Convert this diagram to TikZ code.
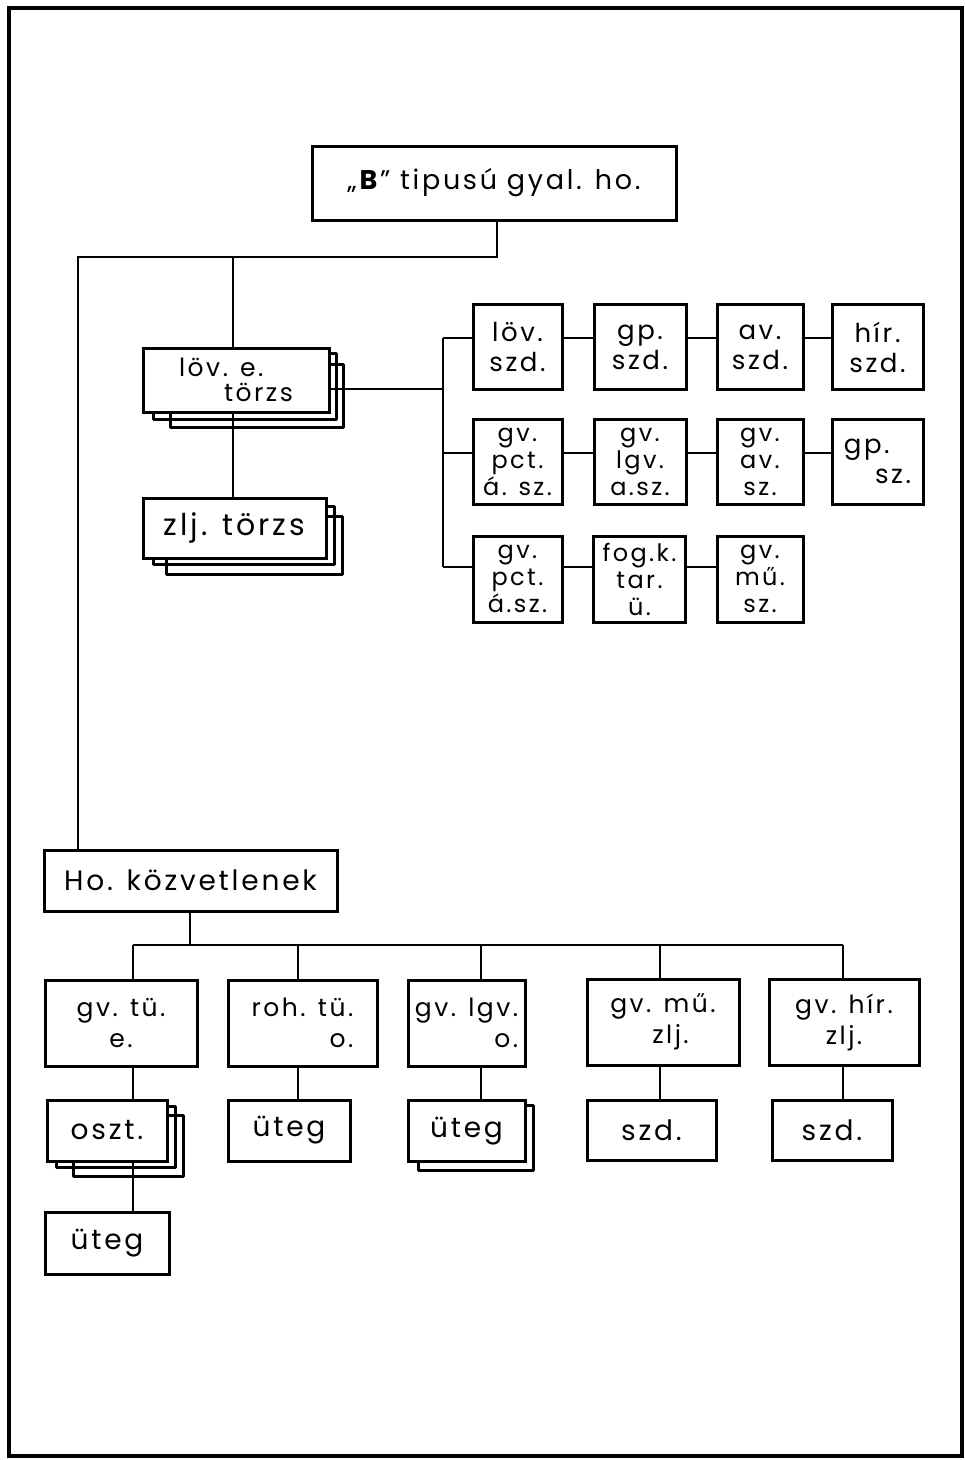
\documentclass[tikz,border=0pt]{standalone}
\usepackage{fontspec}
\setmainfont[LetterSpace=10]{Poppins}
\usetikzlibrary{calc}
\newcommand\backcopy[5]{%
  \draw[boxline] ($(#1.south west)+(#2,0)$) -- ++(0,#5) -| ($(#1.north east)+(#3,#4)$) -- ($(#1.north east)+(0,#4)$);}
\newcommand\fs[2]{\fontsize{#1}{#2}\selectfont}
\begin{document}
\begin{tikzpicture}[x=1pt,y=-1pt,
  boxline/.style={line width=3pt,line join=round},
  box/.style={draw,line width=3pt,fill=white,inner sep=0pt,align=center,
     font=\fs{24}{27}},
  gbox/.style={box,minimum height=85pt},
  lbox/.style={box,minimum height=86pt,font=\fs{25}{31}},
  cbox/.style={box,minimum height=61pt,font=\fs{28}{30}},
  link/.style={line width=2.7pt}]
\useasboundingbox (0,0) rectangle (965,1460);
\draw[line width=4pt] (9,8) rectangle (962,1456);

% top
\node[box,minimum width=364pt,minimum height=74pt,font=\fs{27}{32}] (top) at (494,183) {„\textbf{B}" tipusú gyal. ho.};

% staffs
\node[box,minimum width=186pt,minimum height=64pt,align=left,font=\fs{25}{25}] (lov) at (236,380) {löv. e.\\\hspace*{1.8em}törzs};
\backcopy{lov}{12}{6}{7}{6}
\backcopy{lov}{29}{13}{18}{14}
\node[box,minimum width=183pt,minimum height=60pt,font=\fs{30}{32}] (zlj) at (234.5,528) {zlj. törzs};
\backcopy{zlj}{12}{7}{10}{5}
\backcopy{zlj}{25}{15}{20}{15}

% grid
\node[gbox,minimum width=89pt,font=\fs{26}{30}] (a1) at (517.5,347) {löv.\\szd.};
\node[gbox,minimum width=92pt,font=\fs{26}{30}] (b1) at (640,347) {gp.\\szd.};
\node[gbox,minimum width=86pt,font=\fs{26}{30}] (c1) at (760,347) {av.\\szd.};
\node[gbox,minimum width=91pt,font=\fs{26}{30}] (d1) at (877.5,347) {hír.\\szd.};

\node[gbox,minimum width=89pt] (a2) at (517.5,461.5) {gv.\\pct.\\á. sz.};
\node[gbox,minimum width=92pt] (b2) at (640,461.5) {gv.\\lgv.\\a.sz.};
\node[gbox,minimum width=86pt] (c2) at (760,461.5) {gv.\\av.\\sz.};
\node[gbox,minimum width=91pt,align=left,font=\fs{26}{30}] (d2) at (877.5,461.5) {gp.\\\hspace*{1.2em}sz.};

\node[gbox,minimum width=89pt,minimum height=86pt] (a3) at (517.5,579) {gv.\\pct.\\á.sz.};
\node[gbox,minimum width=92pt,minimum height=86pt] (b3) at (639.5,579) {fog.k.\\tar.\\ü.};
\node[gbox,minimum width=86pt,minimum height=86pt] (c3) at (760,579) {gv.\\mű.\\sz.};

\coordinate (ry1) at (0,338);
\coordinate (ry2) at (0,453);
\coordinate (ry3) at (0,567);
\coordinate (bus1) at (443,338);
\coordinate (bus3) at (443,567);
\coordinate (busl) at (443,389);

\draw[link] (bus1) -- (bus3);
\draw[link] (lov.east |- busl) -- (busl);
\draw[link] (bus1) -- (a1.west |- ry1);
\draw[link] (bus1 |- ry2) -- (a2.west |- ry2);
\draw[link] (bus3) -- (a3.west |- ry3);
\draw[link] (a1.east |- ry1) -- (b1.west |- ry1);
\draw[link] (b1.east |- ry1) -- (c1.west |- ry1);
\draw[link] (c1.east |- ry1) -- (d1.west |- ry1);
\draw[link] (a2.east |- ry2) -- (b2.west |- ry2);
\draw[link] (b2.east |- ry2) -- (c2.west |- ry2);
\draw[link] (c2.east |- ry2) -- (d2.west |- ry2);
\draw[link] (a3.east |- ry3) -- (b3.west |- ry3);
\draw[link] (b3.east |- ry3) -- (c3.west |- ry3);

% direct units
\node[box,minimum width=293pt,minimum height=61pt,font=\fs{28}{30}] (ho) at (190.5,880.5) {Ho. közvetlenek};

\node[lbox,minimum width=152pt] (A) at (121,1023) {gv. tü.\\e.};
\node[lbox,minimum width=149pt,align=right] (B) at (302.5,1023) {roh. tü.\\o.};
\node[lbox,minimum width=117pt,align=right] (C) at (466.5,1023) {gv. lgv.\\o.};
\node[lbox,minimum width=152pt] (D) at (663,1022) {gv. mű.\\\hspace*{0.6em}zlj.};
\node[lbox,minimum width=150pt] (E) at (844,1022) {gv. hír.\\zlj.};

\node[cbox,minimum width=120pt] (oszt) at (107,1130.5) {oszt.};
\backcopy{oszt}{11}{7}{8}{5}
\backcopy{oszt}{28}{15}{17}{14}
\node[cbox,minimum width=124pt,minimum height=62pt] (ut1) at (107,1243) {üteg};
\node[cbox,minimum width=122pt] (ut2) at (289,1130.5) {üteg};
\node[cbox,minimum width=117pt] (ut3) at (466.5,1131) {üteg};
\backcopy{ut3}{12}{7}{6}{7}
\node[cbox,minimum width=129pt,minimum height=60pt] (szd1) at (651.5,1130) {szd.};
\node[cbox,minimum width=120pt,minimum height=60pt] (szd2) at (832,1130) {szd.};

% connectors
\coordinate (j0) at (497,257);
\coordinate (j1) at (78,257);
\coordinate (j2) at (233,257);
\draw[link] (top.south -| j0) -- (j0) -- (j1) -- (ho.north -| j1);
\draw[link] (j2) -- (lov.north -| j2);
\draw[link] (lov.south -| j2) -- (zlj.north -| j2);

\coordinate (k0) at (190,945);
\coordinate (k1) at (133,945);
\coordinate (k2) at (298,945);
\coordinate (k3) at (481,945);
\coordinate (k4) at (660,945);
\coordinate (k5) at (843,945);
\draw[link] (ho.south -| k0) -- (k0);
\draw[link] (k1) -- (k5);
\draw[link] (k1) -- (A.north -| k1);
\draw[link] (k2) -- (B.north -| k2);
\draw[link] (k3) -- (C.north -| k3);
\draw[link] (k4) -- (D.north -| k4);
\draw[link] (k5) -- (E.north -| k5);
\draw[link] (A.south -| k1) -- (oszt.north -| k1);
\draw[link] (oszt.south -| k1) -- (ut1.north -| k1);
\draw[link] (B.south -| k2) -- (ut2.north -| k2);
\draw[link] (C.south -| k3) -- (ut3.north -| k3);
\draw[link] (D.south -| k4) -- (szd1.north -| k4);
\draw[link] (E.south -| k5) -- (szd2.north -| k5);
\end{tikzpicture}
\end{document}
